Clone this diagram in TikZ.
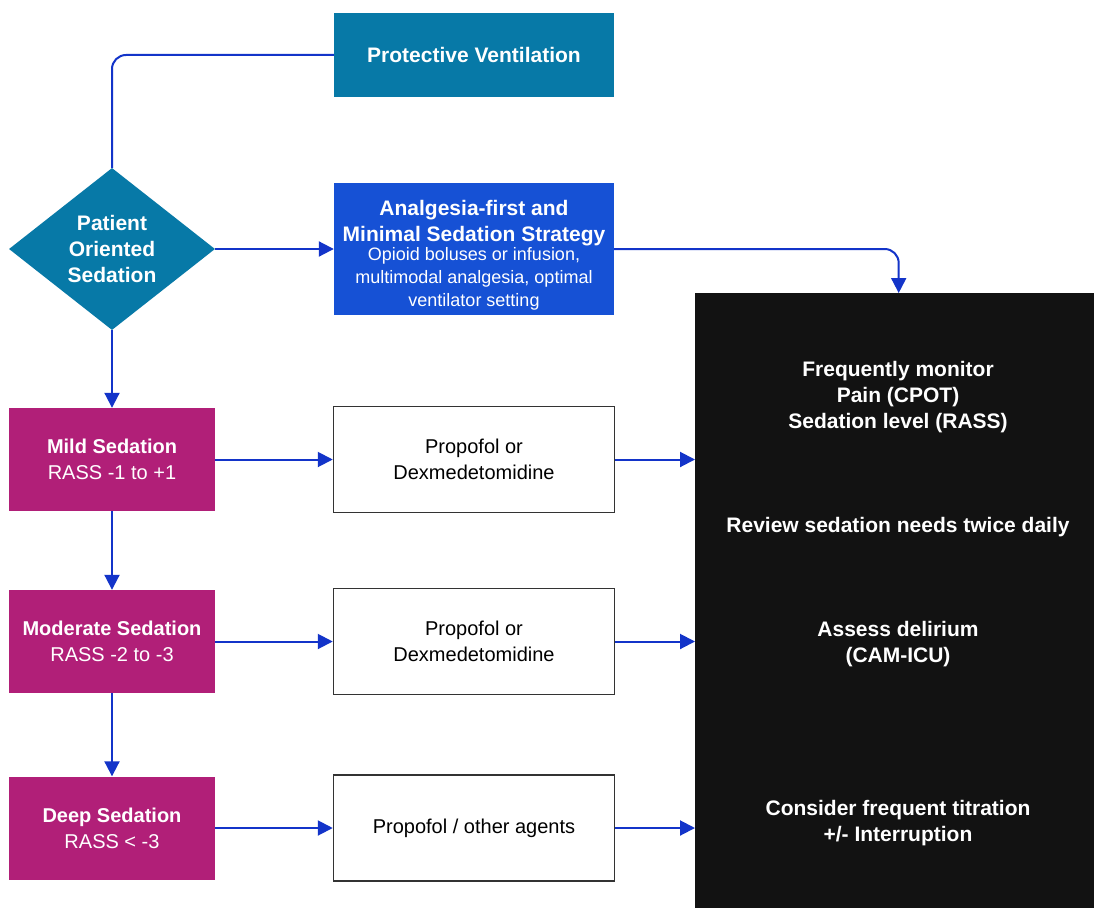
\documentclass[tikz,border=0pt]{standalone}
\usepackage{fontspec}
\setmainfont{Liberation Sans}
\usetikzlibrary{arrows.meta,positioning,shapes.geometric}
\definecolor{ventteal}{HTML}{0779A7}
\definecolor{stratblue}{HTML}{1651D5}
\definecolor{sedmag}{HTML}{B11F78}
\definecolor{monblack}{HTML}{121212}
\definecolor{linkblue}{HTML}{1334C9}
\definecolor{boxline}{HTML}{333333}
\tikzset{
  hdr/.style={fill=ventteal,text=white,align=center,inner sep=2pt,font=\fontsize{21}{26}\selectfont\bfseries},
  lvl/.style={fill=sedmag,text=white,minimum width=206pt,minimum height=103pt,inner sep=2pt,align=center,font=\fontsize{20}{26}\selectfont},
  drug/.style={draw=boxline,line width=1.5pt,fill=white,minimum width=281pt,minimum height=106pt,align=center,font=\fontsize{20}{26}\selectfont},
  note/.style={text=white,align=center,font=\fontsize{21}{26}\selectfont\bfseries},
  ar/.style={-{Triangle[length=15pt,width=15pt]},draw=linkblue,line width=2pt},
  ln/.style={draw=linkblue,line width=2pt,rounded corners=14pt},
}
\begin{document}
\begin{tikzpicture}[x=1pt,y=1pt]
  \useasboundingbox[fill=white] (0,0) rectangle (1094,-907);
  % top row
  \node[hdr,minimum width=280pt,minimum height=84pt] (vent) at (474,-55) {Protective Ventilation};
  \node[hdr,diamond,aspect=1.27,minimum width=206pt,minimum height=162pt,inner sep=0pt] (pos) at (112,-249) {Patient\\Oriented\\Sedation};
  \node[fill=stratblue,text=white,minimum width=280pt,minimum height=132pt,inner sep=2pt,align=center,font=\fontsize{18}{23}\selectfont] (strat) at (474,-249)
    {{\fontsize{21}{26}\selectfont\bfseries\rule{0pt}{27pt}Analgesia-first and}\\[3pt]{\fontsize{21}{26}\selectfont\bfseries Minimal Sedation Strategy}\\[-4pt]Opioid boluses or infusion,\\multimodal analgesia, optimal\\ventilator setting};
  % monitoring panel
  \node[fill=monblack,minimum width=407pt,minimum height=622pt,inner sep=0pt,anchor=north west] (mon) at (695,-293) {};
  \node[note] (mon1) at (898,-397) {Frequently monitor\\Pain (CPOT)\\Sedation level (RASS)};
  \node[note] (mon2) at (898,-527) {Review sedation needs twice daily};
  \node[note] (mon3) at (898,-644) {Assess delirium\\(CAM-ICU)};
  \node[note] (mon4) at (898,-823) {Consider frequent titration\\+/- Interruption};
  % sedation levels
  \node[lvl] (l1) at (112,-459.5) {\textbf{Mild Sedation}\\RASS -1 to +1};
  \node[lvl] (l2) at (112,-641.5) {\textbf{Moderate Sedation}\\RASS -2 to -3};
  \node[lvl] (l3) at (112,-828) {\textbf{Deep Sedation}\\RASS < -3};
  \node[drug] (d1) at (474,-459.5) {Propofol or\\Dexmedetomidine};
  \node[drug] (d2) at (474,-641.5) {Propofol or\\Dexmedetomidine};
  \node[drug] (d3) at (474,-828) {Propofol / other agents};
  % connectors
  \draw[ln] (pos.north) |- (vent.west);
  \draw[ar] (pos.east) -- (strat.west);
  \draw[ar,rounded corners=14pt] (strat.east) -| (mon.north);
  \draw[ar] (pos.south) -- (l1.north);
  \draw[ar] (l1.south) -- (l2.north);
  \draw[ar] (l2.south) -- (l3.north);
  \foreach \i in {1,2,3} {
    \draw[ar] (l\i.east) -- (d\i.west);
    \draw[ar] (d\i.east) -- (d\i.east -| mon.west);
  }
\end{tikzpicture}
\end{document}
